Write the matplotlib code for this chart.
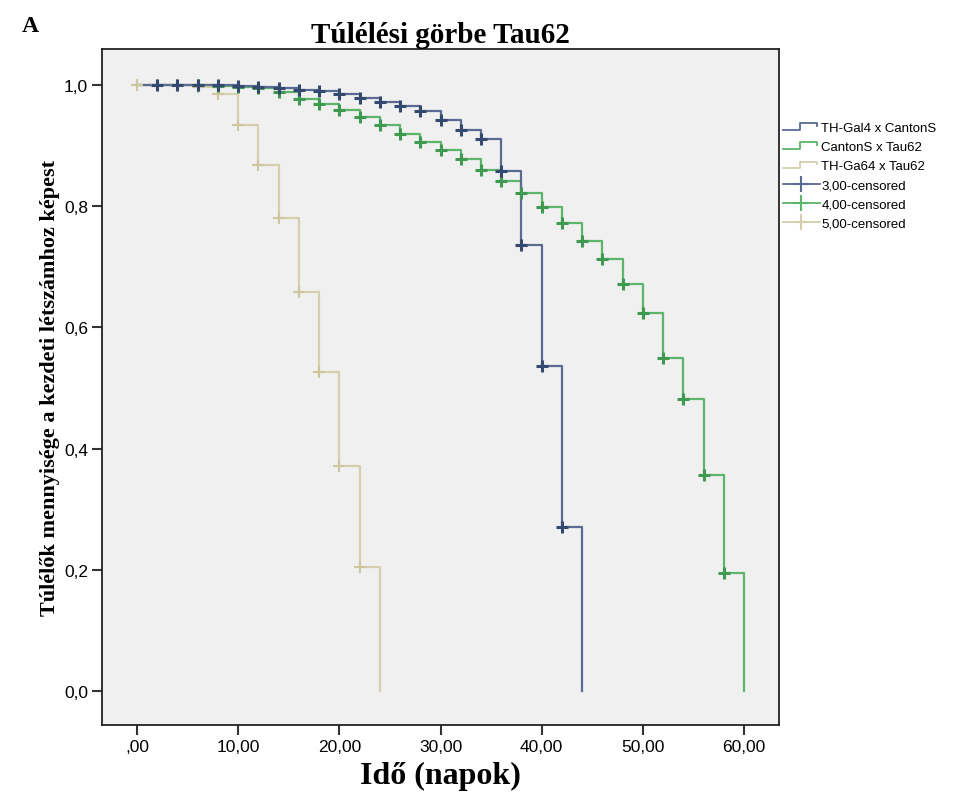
import matplotlib
matplotlib.use("Agg")
import matplotlib.pyplot as plt
from matplotlib.lines import Line2D
from matplotlib.legend_handler import HandlerBase

# ---- data ----
blue_times = [0, 2, 4, 6, 8, 10, 12, 14, 16, 18, 20, 22, 24, 26, 28, 30, 32, 34, 36, 38, 40, 42, 44]
blue_surv = [1.0, 1.0, 1.0, 1.0, 0.999, 0.998, 0.997, 0.995, 0.992, 0.989, 0.985, 0.979, 0.972,
             0.965, 0.957, 0.942, 0.926, 0.910, 0.857, 0.736, 0.536, 0.270, 0.0]

green_times = [0, 2, 4, 6, 8, 10, 12, 14, 16, 18, 20, 22, 24, 26, 28, 30, 32, 34, 36, 38, 40,
               42, 44, 46, 48, 50, 52, 54, 56, 58, 60]
green_surv = [1.0, 1.0, 1.0, 0.999, 0.998, 0.997, 0.994, 0.988, 0.977, 0.969, 0.958, 0.947, 0.933,
              0.919, 0.906, 0.892, 0.878, 0.859, 0.841, 0.821, 0.798, 0.772, 0.743, 0.713, 0.672,
              0.623, 0.550, 0.481, 0.356, 0.194, 0.0]

tan_times = [0, 2, 4, 6, 8, 10, 12, 14, 16, 18, 20, 22, 24]
tan_surv = [1.0, 1.0, 1.0, 0.997, 0.985, 0.933, 0.867, 0.780, 0.658, 0.526, 0.372, 0.205, 0.0]

series_labels = ["TH-Gal4 x CantonS", "CantonS x Tau62", "TH-Ga64 x Tau62"]
censor_labels = ["3,00-censored", "4,00-censored", "5,00-censored"]
x_ticks = [0, 10, 20, 30, 40, 50, 60]
x_ticklabels = [",00", "10,00", "20,00", "30,00", "40,00", "50,00", "60,00"]
y_ticks = [0.0, 0.2, 0.4, 0.6, 0.8, 1.0]
y_ticklabels = ["0,0", "0,2", "0,4", "0,6", "0,8", "1,0"]

# ---- styles ----
blue_line, blue_mark = "#5a6a94", "#34496f"
green_line, green_mark = "#5cb568", "#3e9a50"
tan_line, tan_mark = "#d6cfae", "#cfc59c"

W, H = 972, 803
fig = plt.figure(figsize=(W / 100, H / 100), dpi=100)
ax = fig.add_axes([102 / W, 1 - 726 / H, (779 - 102) / W, (726 - 50) / H])
ax.set_facecolor("#f0f0f0")

sans = ["Liberation Sans", "DejaVu Sans"]
serif = ["Liberation Serif", "DejaVu Serif"]

def draw(times, surv, lc, mc, mew, start_idx):
    ax.step(times, surv, where="post", color=lc, lw=1.6, zorder=2)
    ax.plot(times[start_idx:-1], surv[start_idx:-1], ls="none", marker="+", ms=9,
            mew=mew, color=mc, zorder=3)

draw(tan_times, tan_surv, tan_line, tan_mark, 1.5, 0)
draw(green_times, green_surv, green_line, green_mark, 2.2, 3)
draw(blue_times, blue_surv, blue_line, blue_mark, 2.2, 1)

ax.set_xlim(-3.46, 63.46)
ax.set_ylim(-0.056, 1.059)
ax.set_xticks(x_ticks)
ax.set_xticklabels(x_ticklabels, family=sans, fontsize=12.5)
ax.set_yticks(y_ticks)
ax.set_yticklabels(y_ticklabels, family=sans, fontsize=12.5)
ax.tick_params(direction="out", length=7, width=1.5, color="#333333", pad=3)
for s in ax.spines.values():
    s.set_linewidth(1.3)
    s.set_color("#222222")

ax.set_title("Túlélési görbe Tau62", family=serif, fontweight="bold", fontsize=21, pad=5)
ax.set_xlabel("Idő (napok)", family=serif, fontweight="bold", fontsize=23, labelpad=5)
ax.set_ylabel("Túlélők mennyisége a kezdeti létszámhoz képest", family=serif,
              fontweight="bold", fontsize=16, labelpad=3)
fig.text(30 / W, 1 - 26 / H, "A", family=serif, fontweight="bold", fontsize=17,
         ha="center", va="center")

# ---- legend ----
class StepHandler(HandlerBase):
    def create_artists(self, legend, orig_handle, xdescent, ydescent, width, height,
                       fontsize, trans):
        x0 = -xdescent
        y0 = -ydescent
        xs = [x0, x0 + 0.45 * width, x0 + 0.45 * width, x0 + 0.92 * width, x0 + 0.92 * width]
        ys = [y0 + 0.15 * height, y0 + 0.15 * height, y0 + 0.85 * height, y0 + 0.85 * height,
              y0 + 0.55 * height]
        ln = Line2D(xs, ys, color=orig_handle.get_color(), lw=1.3)
        ln.set_transform(trans)
        return [ln]

h_steps = [Line2D([], [], color=c) for c in (blue_line, green_line, tan_line)]
h_cens = [Line2D([], [], color=c, lw=1.3, marker="+", ms=12, mew=1.5)
          for c in (blue_line, green_line, tan_line)]
handler_map = {h: StepHandler() for h in h_steps}
leg = fig.legend(h_steps + h_cens, series_labels + censor_labels, handler_map=handler_map,
                 loc="upper left", bbox_to_anchor=(783 / W, 1 - 123 / H), frameon=False,
                 prop={"family": sans, "size": 9.5}, handlelength=2.8, handletextpad=0.1,
                 labelspacing=0.52, borderpad=0, borderaxespad=0, numpoints=1)

fig.savefig("out.png", dpi=100, facecolor="white")
